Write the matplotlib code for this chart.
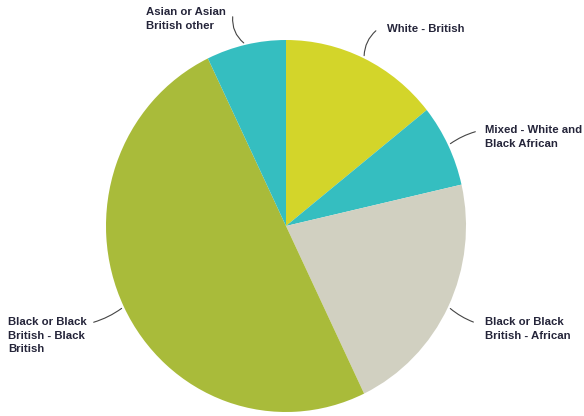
import numpy as np
import matplotlib.pyplot as plt

labels = ['White - British', 'Mixed - White and\nBlack African',
          'Black or Black\nBritish - African', 'Black or Black\nBritish - Black\nBritish',
          'Asian or Asian\nBritish other']
counts = [2, 1, 3, 7, 1]
colors = ['#d3d52a', '#35bec0', '#d1d0c1', '#a9bb3a', '#35bec0']

# label text anchors (pixel coords, y up)
text_pos = [(387, 392), (485, 291), (485, 99), (8, 99), (146, 409)]
# connector start points (pixel coords, y up)
starts = [(378, 387), (478, 285), (476, 93), (91, 93), (233, 402)]
rads = [0.25, 0.1, -0.1, 0.1, 0.3]

fig = plt.figure(figsize=(5.84, 4.16), dpi=100)
ax = fig.add_axes([0, 0, 1, 1])

# the pie is slightly taller than wide in the reference
s = 180 / 186
cx, cy, r = 286, 190 * s, 180
wedges, _ = ax.pie(counts, colors=colors, startangle=90, counterclock=False,
                   center=(cx, cy), radius=r, frame=True,
                   wedgeprops=dict(linewidth=0))
ax.set_xlim(0, 584)
ax.set_ylim(0, 416 * s)
ax.set_aspect('auto')
ax.axis('off')

for w, lab, tp, rad, st in zip(wedges, labels, text_pos, rads, starts):
    ang = np.deg2rad((w.theta1 + w.theta2) / 2)
    ex, ey = cx + r * np.cos(ang), cy + r * np.sin(ang)
    ax.text(tp[0], tp[1] * s, lab, ha='left', va='top', fontsize=8.2, fontweight='bold',
            family='Liberation Sans', color='#25253a', linespacing=1.45)
    ax.annotate('', xy=(ex, ey), xytext=(st[0], st[1] * s),
                arrowprops=dict(arrowstyle='-', color='#444444', lw=0.8,
                                connectionstyle='arc3,rad=%s' % rad))

fig.savefig('out.png', dpi=100)
